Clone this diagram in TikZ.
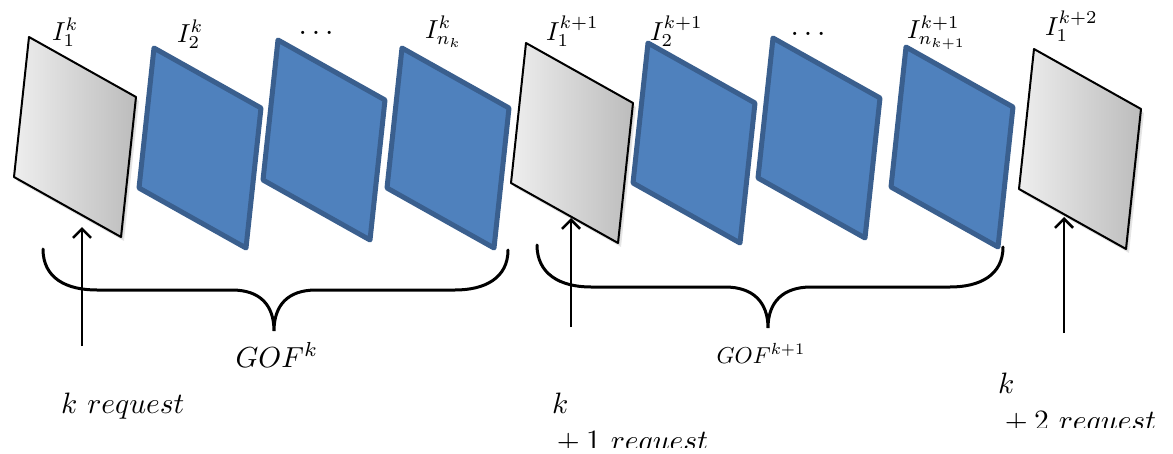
\documentclass[tikz,border=0pt]{standalone}
\usepackage{graphicx}
\usetikzlibrary{arrows.meta}
\definecolor{bfill}{HTML}{4F81BD}
\definecolor{bline}{HTML}{3A5F8E}
\definecolor{gl}{HTML}{EEEEEE}
\definecolor{gr}{HTML}{BCBCBC}
\newcommand\labtxt[1]{\scalebox{2.6}{$#1$}}
\newcommand\goftxt[2]{\scalebox{#1}{$#2$}}
\newcommand\reqtxt[1]{\scalebox{2.95}{$#1$}}
\begin{document}
\begin{tikzpicture}[x=1pt,y=-1pt,
  bluef/.style={fill=bfill,draw=bline,line width=5pt,line join=round},
  grayf/.style={left color=gl,right color=gr,draw=black,line width=2pt,line join=round},
  shad/.style={fill=black,opacity=0.10},
  lbl/.style={inner sep=0pt,anchor=base west},
  dots/.style={inner sep=0pt},
  gof/.style={inner sep=0pt,anchor=base},
  txt/.style={inner sep=0pt,anchor=base west},
  arr/.style={line width=2.6pt,-{Straight Barb[length=9pt,width=18pt,line width=2.6pt]}},
  bracel/.style={line width=3pt,line cap=round}]
\useasboundingbox (0,0) rectangle (1173,453);

% blue frames
\foreach \x/\y in {154/48,278/40,402/48,648/43,773/38,906/47}
  \filldraw[bluef] (\x,\y) -- ++(107,60) -- ++(-15,140) -- ++(-107,-60) -- cycle;

% grey frames
\foreach \x/\y in {29/37,526/43,1034/49} {
  \fill[shad] (\x+3,\y+4) -- ++(107,60) -- ++(-15,140) -- ++(-107,-60) -- cycle;
  \fill[shad] (\x+1.5,\y+2) -- ++(107,60) -- ++(-15,140) -- ++(-107,-60) -- cycle;
  \shadedraw[grayf] (\x,\y) -- ++(107,60) -- ++(-15,140) -- ++(-107,-60) -- cycle;
}

% labels
\node[lbl] (l1) at (52,40) {\labtxt{I_1^k}};
\node[lbl] (l2) at (177,42) {\labtxt{I_2^k}};
\node[dots] (d1) at (316,33) {\scalebox{3}{$\ldots$}};
\node[lbl] (l3) at (425,38) {\labtxt{I_{n_k}^k}};
\node[lbl] (l4) at (546,40) {\labtxt{I_1^{k+1}}};
\node[lbl] (l5) at (650,40) {\labtxt{I_2^{k+1}}};
\node[dots] (d2) at (808,34) {\scalebox{3}{$\ldots$}};
\node[lbl] (l6) at (907,38) {\labtxt{I_{n_{k+1}}^{k+1}}};
\node[lbl] (l7) at (1045,35) {\labtxt{I_1^{k+2}}};

% braces
\draw[bracel] (43,249) .. controls (43,278) and (66,290) .. (97,290) -- (232,290)
  .. controls (260,290) and (274,305) .. (274,331)
  .. controls (274,305) and (288,290) .. (316,290) -- (455,290)
  .. controls (485,290) and (508,278) .. (508,250);
\draw[bracel] (537,245) .. controls (537,274) and (560,287) .. (591,287) -- (725,287)
  .. controls (753,287) and (768,302) .. (768,328)
  .. controls (768,302) and (783,287) .. (811,287) -- (950,287)
  .. controls (980,287) and (1003,275) .. (1003,247);

\node[gof] (g1) at (277,367) {\goftxt{2.9}{GOF^k}};
\node[gof] (g2) at (761,363) {\goftxt{2.3}{GOF^{k+1}}};

% arrows
\coordinate (b1) at (82,346);  \coordinate (t1) at (82,227);
\coordinate (b2) at (571,327); \coordinate (t2) at (571,218);
\coordinate (b3) at (1064,333); \coordinate (t3) at (1064,217);
\draw[arr] (b1) -- (t1);
\draw[arr] (b2) -- (t2);
\draw[arr] (b3) -- (t3);

% request texts
\node[txt] (r1) at (61,413) {\reqtxt{k\ request}};
\begin{scope}
  \clip (540,370) rectangle (760,447);
  \node[txt] (r2a) at (552,413) {\reqtxt{k}};
  \node[txt] (r2b) at (550,450) {\reqtxt{{}+1\ request}};
\end{scope}
\begin{scope}
  \clip (980,360) rectangle (1173,427);
  \node[txt] (r3a) at (998,393) {\reqtxt{k}};
  \node[txt] (r3b) at (998,430) {\reqtxt{{}+2\ request}};
\end{scope}
\end{tikzpicture}
\end{document}
